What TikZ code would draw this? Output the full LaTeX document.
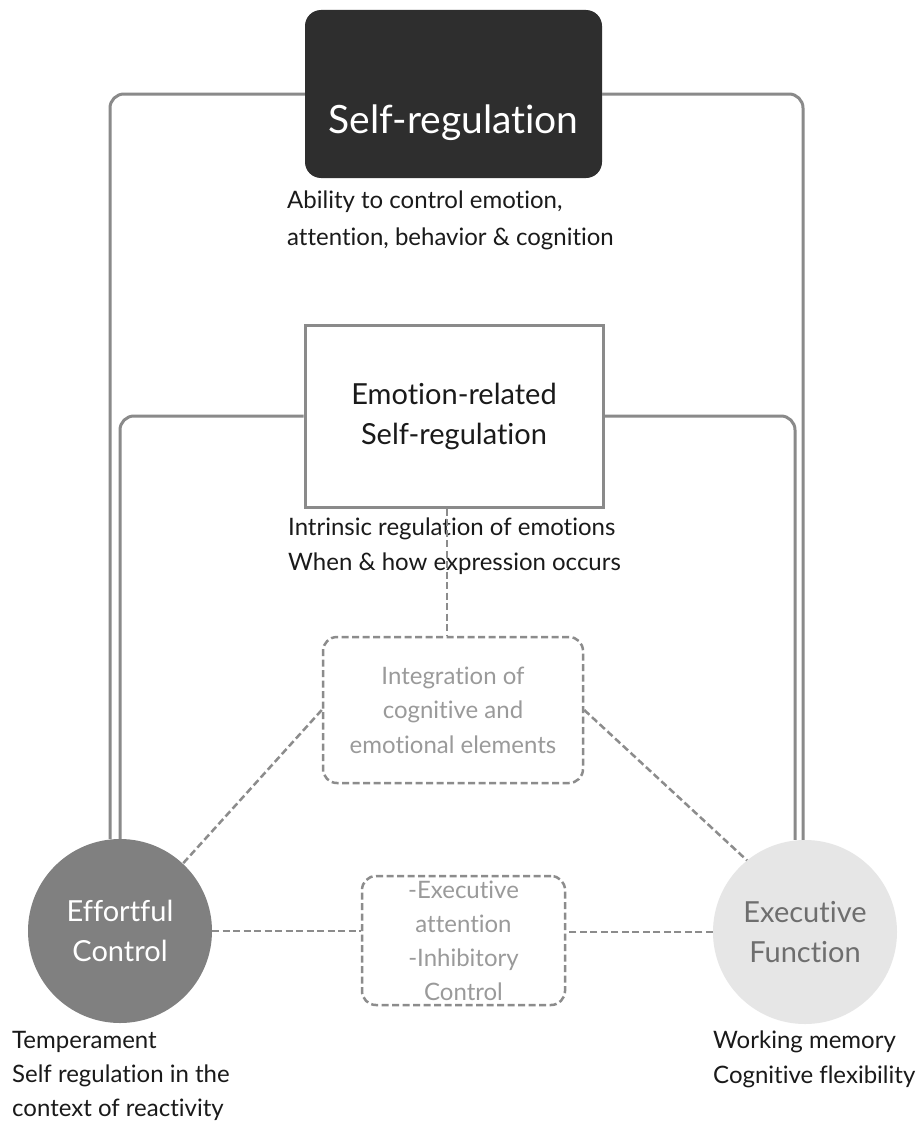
\documentclass[tikz,border=0pt]{standalone}
\usepackage{fontspec}
\setmainfont{Lato}[Ligatures=NoCommon]
\definecolor{darkbox}{HTML}{2E2E2E}
\definecolor{linegray}{HTML}{8A8A8A}
\definecolor{dashgray}{HTML}{8C8C8C}
\definecolor{ecfill}{HTML}{808080}
\definecolor{effill}{HTML}{E6E6E6}
\definecolor{eftext}{HTML}{6E6E6E}
\definecolor{softtext}{HTML}{9A9A9A}
\definecolor{labtext}{HTML}{1A1A1A}
\begin{document}
\begin{tikzpicture}[x=1pt,y=-1pt,
  conn/.style={draw=linegray, line width=3pt, rounded corners=14pt},
  dconn/.style={draw=dashgray, line width=2.5pt, dash pattern=on 7pt off 3.5pt},
  srbox/.style={rectangle, rounded corners=16pt, fill=darkbox, minimum width=297pt,
    minimum height=168pt, text=white, font=\fontsize{39pt}{44pt}\selectfont,
    text height=90pt, text depth=12pt},
  erbox/.style={rectangle, draw=linegray, line width=3pt, fill=white, minimum width=298pt,
    minimum height=182pt, align=center, text=labtext, font=\fontsize{29pt}{40pt}\selectfont},
  softbox/.style={rectangle, rounded corners=14pt, draw=dashgray, line width=2.5pt,
    dash pattern=on 7pt off 3.5pt, text=softtext, align=center, inner sep=0pt},
  circ/.style={circle, minimum size=184pt, inner sep=0pt, align=center,
    font=\fontsize{29pt}{40pt}\selectfont},
  lab/.style={align=left, inner sep=0pt, text=labtext, font=\fontsize{24pt}{35pt}\selectfont}
]
\useasboundingbox[fill=white] (0,0) rectangle (923,1124);

% main nodes
\node[srbox] (sr) at (453.5,94) {Self-regulation};
\node[erbox] (er) at (454,416) {Emotion-related\\Self-regulation};
\node[softbox, minimum width=260pt, minimum height=146pt,
  font=\fontsize{24pt}{34.5pt}\selectfont] (ig) at (453,710)
  {Integration of\\cognitive and\\emotional elements};
\node[softbox, minimum width=203pt, minimum height=129pt,
  font=\fontsize{24pt}{34pt}\selectfont] (ea) at (463.5,940.5)
  {-Executive\\attention\\-Inhibitory\\Control};
\node[circ, fill=ecfill, text=white] (ec) at (120,931) {Effortful\\Control};
\node[circ, fill=effill, text=eftext] (ef) at (805,932) {Executive\\Function};

% descriptive labels (anchored at the baseline of their last line)
\node[lab, anchor=base west, font=\fontsize{24pt}{37pt}\selectfont] (srl) at (287,245)
  {Ability to control emotion,\\attention, behavior \& cognition};
\node[lab, anchor=base west] (erl) at (288,570)
  {Intrinsic regulation of emotions\\When \& how expression occurs};
\node[lab, anchor=base west, font=\fontsize{24pt}{34pt}\selectfont] (ecl) at (12,1116)
  {Temperament\\Self regulation in the\\context of reactivity};
\node[lab, anchor=base west] (efl) at (713,1083)
  {Working memory\\Cognitive flexibility};

% solid connectors
\draw[conn] (sr.west) -| ([xshift=-10pt]ec.north);
\draw[conn] (sr.east) -| ([xshift=-2pt]ef.north);
\draw[conn] (er.west) -| (ec.north);
\draw[conn] (er.east) -| ([xshift=-10pt]ef.north);

% dashed connectors
\draw[dconn] ([xshift=-7pt]er.south) -- ([xshift=-7pt]er.south |- ig.north);
\draw[dconn] (ig.west) -- (ec.47);
\draw[dconn] (ig.east) -- (ef.129);
\draw[dconn] (ec.east) -- (ec.east -| ea.west);
\draw[dconn] (ef.west) -- (ef.west -| ea.east);
\end{tikzpicture}
\end{document}
